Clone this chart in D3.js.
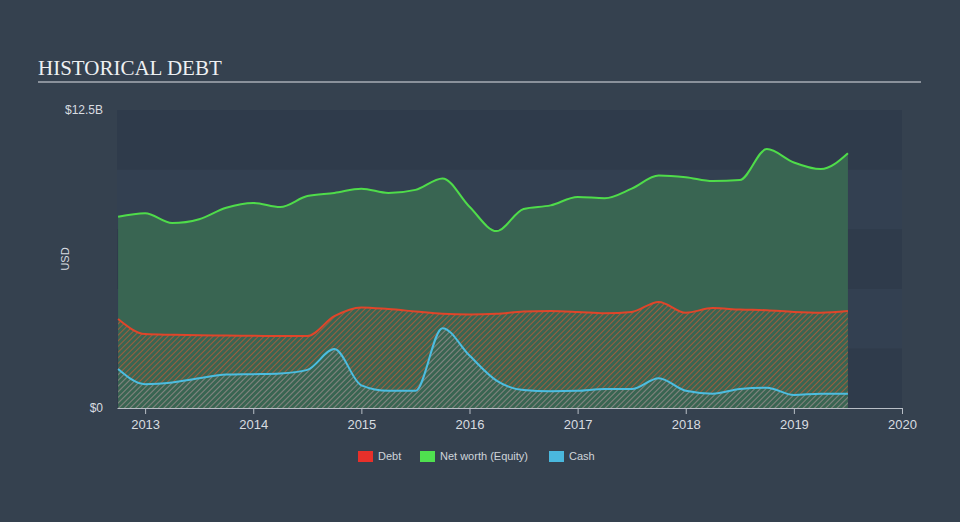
<!DOCTYPE html>
<html><head><meta charset="utf-8">
<script src="https://cdn.jsdelivr.net/npm/d3@7"></script>
<style>
html,body{margin:0;padding:0;background:#35414f;}
svg{display:block;}
</style></head>
<body>
<svg id="chart" width="960" height="522"></svg>
<script>
const dates = [2012.75,2013.0,2013.25,2013.5,2013.75,2014.0,2014.25,2014.5,2014.75,2015.0,2015.25,2015.5,2015.75,2016.0,2016.25,2016.5,2016.75,2017.0,2017.25,2017.5,2017.75,2018.0,2018.25,2018.5,2018.75,2019.0,2019.25,2019.5];
const netWorth = [8.02,8.17,7.76,7.92,8.4,8.6,8.43,8.89,9.02,9.2,9.02,9.15,9.63,8.44,7.42,8.35,8.5,8.85,8.8,9.2,9.75,9.68,9.52,9.56,10.86,10.3,10.02,10.69];
const debt = [3.73,3.1,3.07,3.05,3.04,3.03,3.02,3.02,3.85,4.22,4.15,4.05,3.95,3.92,3.95,4.05,4.07,4.03,3.97,4.03,4.45,4.0,4.19,4.13,4.1,4.03,4.0,4.07];
const cash = [1.64,1.0,1.07,1.25,1.4,1.42,1.45,1.6,2.47,0.95,0.72,0.72,3.35,2.2,1.15,0.75,0.7,0.72,0.8,0.8,1.25,0.72,0.6,0.8,0.85,0.55,0.6,0.6];
const xTicks = [2013,2014,2015,2016,2017,2018,2019,2020];
const yTicks = [0,12.5];
const yBands = [0,2.5,5,7.5,10];
const legendItems = [{name:"Debt",color:"#e8302a"},{name:"Net worth (Equity)",color:"#4fe04f"},{name:"Cash",color:"#4ab8de"}];

const svg = d3.select("#chart");
const L=117, R=902, T=110, B=408;
const x = d3.scaleLinear().domain([2012.74,2020]).range([L,R]);
const y = d3.scaleLinear().domain([0,12.5]).range([B,T]);

// title
svg.append("text").attr("x",38).attr("y",75).text("HISTORICAL DEBT")
  .attr("font-family","Liberation Serif, serif").attr("font-size",21).attr("fill","#eef0f2");
svg.append("line").attr("x1",38).attr("x2",921).attr("y1",82).attr("y2",82)
  .attr("stroke","#a7adb4").attr("stroke-width",1.5);

// bands
svg.append("g").selectAll("rect").data(yBands).join("rect")
  .attr("x",L).attr("width",R-L)
  .attr("y",d=>y(d+2.5)).attr("height",d=>y(d)-y(d+2.5))
  .attr("fill",(d,i)=> i%2===0 ? "#2f3b4b" : "#334051");

// patterns
const defs = svg.append("defs");
function hatch(id,color,op){
  const p = defs.append("pattern").attr("id",id).attr("patternUnits","userSpaceOnUse")
    .attr("width",4).attr("height",4).attr("patternTransform","rotate(45)");
  p.append("line").attr("x1",0).attr("y1",0).attr("x2",0).attr("y2",4)
    .attr("stroke",color).attr("stroke-width",1.6).attr("stroke-opacity",op);
}
hatch("hDebt","#e0582e",0.75);
hatch("hCash","#4ab8de",0.55);

const data = dates.map((d,i)=>({t:d,nw:netWorth[i],debt:debt[i],cash:cash[i]}));
const curve = d3.curveMonotoneX;
function area(key){return d3.area().x(d=>x(d.t)).y0(y(0)).y1(d=>y(d[key])).curve(curve);}
function line(key){return d3.line().x(d=>x(d.t)).y(d=>y(d[key])).curve(curve);}

svg.append("path").datum(data).attr("d",area("nw")).attr("fill","#3a6752").attr("fill-opacity",0.95);
svg.append("path").datum(data).attr("d",area("debt")).attr("fill","url(#hDebt)");
svg.append("path").datum(data).attr("d",area("cash")).attr("fill","url(#hCash)");

svg.append("path").datum(data).attr("d",line("nw")).attr("fill","none").attr("stroke","#4fdc4a").attr("stroke-width",2);
svg.append("path").datum(data).attr("d",line("debt")).attr("fill","none").attr("stroke","#e0452a").attr("stroke-width",2);
svg.append("path").datum(data).attr("d",line("cash")).attr("fill","none").attr("stroke","#4cbde0").attr("stroke-width",2);

// x axis
const xa = svg.append("g").attr("transform",`translate(0,${B})`)
  .call(d3.axisBottom(x).tickValues(xTicks).tickFormat(d3.format("d")).tickSize(6).tickSizeOuter(0));
xa.select(".domain").attr("stroke","#b8bec6").attr("stroke-width",1.2);
xa.selectAll(".tick line").attr("stroke","#b8bec6");
xa.selectAll(".tick text").attr("fill","#d8dce0").attr("font-size",13).attr("font-family","Liberation Sans, Arial, sans-serif").attr("dy","0.9em");

// y labels
svg.append("g").selectAll("text").data(yTicks).join("text")
  .attr("x",103).attr("y",d=>y(d)+4).attr("text-anchor","end")
  .attr("font-family","Liberation Sans, Arial, sans-serif").attr("font-size",12).attr("fill","#d8dce0")
  .text(d=> d===0 ? "$0" : "$"+d+"B");
svg.append("text").attr("transform","translate(69,259) rotate(-90)").attr("text-anchor","middle")
  .attr("font-family","Liberation Sans, Arial, sans-serif").attr("font-size",11).attr("fill","#d8dce0").text("USD");

// legend
const lg = svg.append("g");
const lx = [358,420,549];
legendItems.forEach((it,i)=>{
  lg.append("rect").attr("x",lx[i]).attr("y",451).attr("width",15).attr("height",11).attr("fill",it.color);
  lg.append("text").attr("x",lx[i]+20).attr("y",460).text(it.name)
    .attr("font-family","Liberation Sans, Arial, sans-serif").attr("font-size",11).attr("fill","#cfd4da");
});
</script>
</body></html>
